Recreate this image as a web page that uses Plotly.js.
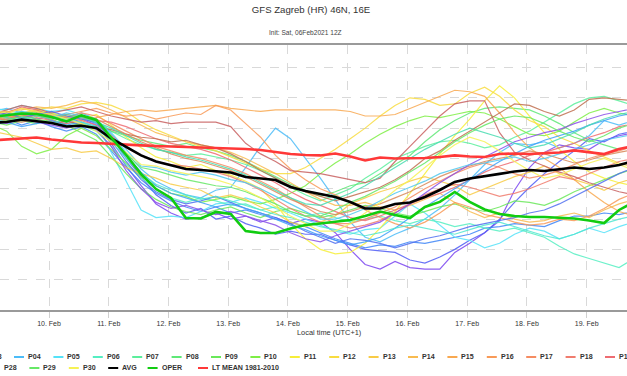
<!DOCTYPE html>
<html><head><meta charset="utf-8">
<script src="https://cdn.plot.ly/plotly-3.0.1.min.js"></script>
<style>html,body{margin:0;padding:0;background:#fff}#chart{width:627px;height:376px}</style>
</head><body><div id="chart"></div>
<script>
// ---- data (6-hourly, local time UTC+1, first point 09 Feb 2021 01:00) ----
const firstTime = Date.UTC(2021, 1, 9, 1, 0);
const stepHours = 6;
const memberNames = ['P01','P02','P03','P04','P05','P06','P07','P08','P09','P10','P11','P12','P13','P14','P15','P16','P17','P18','P19','P20','P21','P22','P23','P24','P25','P26','P27','P28','P29','P30'];
const memberColors = ['#7a44f0','#4f5cf5','#3f86f7','#4cbcf8','#55e2f8','#55eec2','#5cee9c','#5fe877','#6ae85a','#7eee45','#f6ee3a','#f8dc40','#f8cb46','#f8bb50','#f8a850','#f89a58','#f58c62','#f07c6e','#ee6c72','#c86060','#c07050','#d88a5a','#8a50e8','#5070f0','#40a0f8','#50c8ee','#50e6d0','#48dcb0','#66e866','#f6f255'];

const P01 = [0.6,0.8,0.7,0.9,0.5,0.3,0.6,0.2,-1.0,-2.5,-3.8,-5.0,-5.6,-6.0,-5.9,-5.6,-6.0,-5.8,-6.2,-5.9,-6.3,-6.0,-6.2,-6.9,-8.0,-9.0,-9.3,-8.8,-9.2,-9.3,-9.3,-8.2,-7.6,-6.9,-6.1,-4.1,-2.6,-1.6,-1.1,-1.3,-1.4,-0.8,-0.5,-0.3];
const P02 = [1.0,0.7,0.9,0.6,0.8,0.4,0.7,0.3,-0.6,-2.0,-3.2,-4.4,-5.1,-5.6,-5.3,-6.0,-5.8,-6.3,-6.6,-7.0,-6.8,-7.0,-7.0,-7.4,-7.7,-8.0,-8.1,-8.2,-8.7,-8.9,-8.5,-8.0,-7.4,-6.9,-6.0,-4.9,-3.9,-3.0,-2.2,-1.5,-0.7,-0.9,-0.4,-0.2];
const P03 = [0.3,0.6,0.2,0.5,0.1,-0.2,0.1,-0.4,-1.5,-2.6,-3.6,-4.3,-4.8,-5.2,-5.5,-5.2,-5.6,-5.4,-5.7,-6.0,-6.2,-6.5,-6.9,-7.3,-7.6,-7.9,-7.7,-7.8,-7.5,-7.6,-7.4,-7.2,-7.0,-6.6,-6.5,-6.3,-6.4,-6.5,-6.1,-5.8,-5.8,-5.6,-5.7,-5.5];
const P04 = [1.1,1.3,1.0,1.2,0.9,0.7,1.0,0.6,-0.4,-1.6,-2.7,-3.5,-4.0,-4.4,-4.6,-4.1,-3.9,-2.6,-1.2,0.0,-0.7,-2.0,-3.3,-4.7,-6.2,-7.2,-7.5,-7.0,-6.6,-6.0,-5.3,-4.4,-3.4,-2.4,-1.6,-1.0,-1.1,-0.9,-1.3,-1.0,-0.5,0.5,0.2,0.5];
const P05 = [1.3,1.2,1.5,1.3,1.1,1.2,0.9,0.3,-1.6,-3.6,-5.4,-5.9,-5.8,-5.9,-5.5,-5.0,-4.9,-4.6,-4.9,-5.3,-5.6,-6.0,-6.4,-6.8,-7.0,-6.7,-6.6,-5.8,-5.0,-5.6,-6.4,-7.2,-7.4,-7.9,-7.6,-7.0,-6.6,-6.8,-7.3,-7.0,-6.6,-6.9,-6.5,-6.2];
const P06 = [0.5,0.8,0.6,0.9,0.7,0.4,0.2,-0.2,-1.2,-2.4,-3.3,-4.0,-4.6,-4.9,-4.6,-4.8,-5.1,-5.0,-5.4,-5.2,-5.5,-5.8,-5.6,-5.9,-6.2,-6.0,-5.8,-6.1,-6.3,-6.0,-6.2,-6.5,-6.3,-6.6,-6.8,-6.6,-6.9,-7.2,-7.8,-8.3,-8.6,-8.9,-9.2,-8.6];
const P07 = [0.7,0.9,1.1,0.8,1.0,0.7,0.9,0.5,-0.2,-0.7,-1.1,-1.4,-1.6,-1.8,-1.7,-1.9,-2.1,-2.4,-2.8,-3.3,-3.9,-4.4,-4.8,-4.4,-4.0,-3.3,-2.7,-2.0,-1.6,-1.2,-0.9,-0.8,-1.0,-1.3,-1.1,-0.6,-0.2,0.4,1.0,1.6,2.0,2.1,1.8,1.5];
const P08 = [0.8,0.6,0.9,1.1,0.8,0.6,0.8,0.4,-0.2,-0.5,-0.8,-1.0,-1.2,-1.0,-1.3,-1.5,-1.8,-2.2,-2.7,-3.2,-3.7,-4.1,-4.5,-4.2,-3.8,-3.6,-3.0,-2.4,-1.8,-0.9,-0.1,0.5,1.0,1.3,1.4,1.3,1.2,0.8,0.3,-0.3,-0.8,-1.1,-1.4,-1.2];
const P09 = [0.4,0.2,0.5,0.3,0.6,0.2,-0.3,-0.8,-1.9,-3.0,-4.0,-4.7,-5.2,-5.5,-5.7,-5.4,-5.2,-5.6,-5.9,-5.5,-5.3,-5.6,-5.9,-5.7,-5.4,-5.1,-5.3,-5.6,-5.8,-5.5,-5.2,-5.0,-5.3,-5.5,-5.2,-4.8,-4.9,-5.1,-4.7,-4.2,-3.8,-3.4,-3.0,-2.7];
const P10 = [0.2,-0.2,-1.2,-1.7,-1.4,-0.5,0.0,-0.5,-1.4,-2.3,-3.2,-3.8,-4.3,-4.5,-4.9,-4.7,-4.5,-4.8,-5.0,-4.7,-4.3,-3.8,-3.0,-2.3,-1.7,-1.0,-0.4,0.1,0.5,0.8,0.7,0.9,1.1,1.0,0.6,0.1,-0.4,-0.5,-0.2,0.4,1.0,1.3,1.0,0.8];
const P11 = [0.9,0.7,1.0,1.2,1.0,0.8,0.6,0.9,0.2,-0.6,-1.3,-1.9,-2.2,-2.6,-2.4,-2.8,-3.1,-3.5,-4.0,-5.0,-6.3,-7.3,-8.0,-8.3,-8.2,-7.6,-6.6,-5.5,-4.3,-3.0,-1.7,-0.5,0.6,1.8,2.8,2.0,0.8,-0.3,-1.4,-2.2,-2.9,-3.3,-3.6,-3.8];
const P12 = [0.9,1.1,0.8,1.2,1.4,1.3,1.6,1.7,1.5,1.1,0.4,-0.1,-0.5,-0.9,-1.2,-1.5,-1.9,-2.3,-2.7,-3.0,-3.0,-2.6,-2.0,-1.4,-0.7,0.0,0.8,1.5,2.0,1.9,1.5,1.6,2.3,2.7,2.1,1.2,0.5,0.1,-0.6,-1.0,-1.5,-1.9,-2.3,-2.6];
const P13 = [-0.2,-0.4,-0.6,-1.0,-1.4,-1.3,-1.6,-1.5,-2.0,-2.6,-3.0,-3.3,-3.7,-3.9,-4.1,-4.6,-4.4,-4.7,-5.2,-5.6,-6.2,-6.5,-6.2,-5.8,-5.0,-4.6,-4.2,-3.9,-3.5,-3.2,-3.5,-3.8,-4.4,-4.0,-3.6,-3.2,-2.9,-2.5,-3.0,-3.4,-3.7,-4.1,-3.6,-3.3];
const P14 = [0.9,1.1,1.2,1.4,1.3,1.5,1.8,1.6,1.2,0.7,0.2,-0.3,-0.6,-0.9,-1.1,-1.3,-1.6,-2.0,-2.5,-3.0,-3.6,-4.2,-4.7,-5.1,-5.1,-4.9,-5.2,-5.4,-5.1,-4.7,-4.3,-4.9,-5.5,-5.9,-5.6,-6.0,-6.2,-6.1,-5.8,-5.6,-5.9,-5.4,-5.0,-4.7];
const P15 = [0.6,0.8,0.7,0.9,0.6,0.8,0.5,0.7,0.9,1.1,1.2,1.1,1.2,1.3,1.4,1.5,1.3,1.2,1.1,1.2,1.2,1.2,1.2,1.2,1.1,0.8,0.8,0.9,1.3,1.7,2.1,2.5,2.4,2.1,1.0,-0.3,-1.3,-2.0,-2.6,-3.4,-4.2,-4.9,-5.5,-5.8];
const P16 = [0.5,0.7,1.0,0.8,0.6,0.9,1.1,1.3,1.0,0.8,0.9,0.6,0.8,1.0,0.9,1.5,1.2,0.3,-0.6,-1.8,-2.7,-3.4,-4.0,-4.4,-4.9,-5.4,-5.9,-6.3,-6.6,-6.2,-5.6,-4.9,-5.2,-5.7,-5.9,-6.2,-6.4,-6.3,-6.0,-6.1,-5.8,-5.3,-4.7,-4.3];
const P17 = [0.8,1.0,1.3,1.1,0.9,0.7,1.0,0.8,0.3,-0.2,-0.7,-1.2,-1.5,-1.8,-2.0,-2.3,-2.6,-3.0,-3.5,-4.0,-4.6,-5.2,-5.8,-6.3,-6.3,-6.0,-5.6,-5.2,-4.6,-4.0,-3.5,-3.0,-2.6,-2.3,-2.6,-3.0,-3.3,-3.1,-2.8,-2.4,-2.0,-1.7,-1.5,-1.2];
const P18 = [0.4,0.6,0.9,0.7,0.5,0.3,0.5,0.2,-0.5,-1.3,-1.8,-2.2,-2.4,-2.5,-2.7,-2.9,-3.2,-3.6,-4.1,-4.7,-5.3,-5.8,-6.2,-6.3,-6.6,-6.4,-6.1,-5.6,-5.0,-4.4,-4.0,-3.7,-3.9,-4.2,-4.5,-4.3,-4.0,-3.6,-3.2,-3.4,-3.0,-2.6,-2.2,-2.0];
const P19 = [0.6,1.0,1.4,1.2,0.8,0.9,0.7,0.5,0.4,0.1,-0.3,-0.7,-1.0,-1.2,-1.4,-1.7,-2.1,-2.6,-3.1,-3.6,-4.2,-4.7,-5.1,-5.5,-5.9,-6.1,-5.8,-5.4,-5.0,-4.6,-4.3,-3.9,-3.4,-2.9,-2.5,-2.2,-1.8,-1.6,-1.3,-1.0,-0.6,-0.3,0.1,0.3];
const P20 = [0.9,1.2,1.5,1.3,1.0,1.2,1.4,1.1,0.8,0.6,0.4,0.5,0.3,0.4,0.4,0.4,0.1,-1.0,-1.7,-2.2,-2.8,-2.9,-3.0,-3.2,-3.4,-3.6,-3.3,-2.2,-1.2,-0.2,0.8,1.6,1.8,1.8,-0.3,-1.6,-2.1,-2.5,-2.9,-3.2,-3.6,-3.9,-4.2,-4.4];
const P21 = [0.3,0.5,0.4,0.6,0.3,0.5,0.2,0.0,-0.1,-0.4,-0.6,-0.7,-0.9,-0.8,-1.1,-1.3,-1.7,-2.2,-2.8,-3.3,-3.8,-4.2,-4.5,-4.8,-4.5,-4.2,-3.9,-3.4,-2.8,-2.0,-1.5,-0.8,-0.2,0.4,1.0,1.6,1.5,1.1,0.8,1.2,1.9,2.0,1.9,1.8];
const P22 = [0.7,0.5,0.8,1.0,0.7,0.5,0.8,0.6,0.1,-0.4,-0.9,-1.3,-1.7,-2.0,-2.2,-2.5,-2.8,-3.2,-3.7,-4.2,-4.7,-5.1,-5.5,-5.7,-5.5,-5.2,-5.0,-4.6,-4.2,-3.7,-3.2,-2.8,-2.5,-2.2,-2.0,-1.8,-1.5,-1.7,-2.0,-2.3,-2.1,-1.8,-1.6,-1.4];
const P23 = [0.5,0.3,0.6,0.4,0.2,0.0,0.3,-0.1,-1.2,-2.8,-4.0,-4.9,-5.3,-5.1,-5.4,-5.7,-5.5,-5.8,-6.1,-6.4,-6.9,-7.3,-7.5,-7.1,-6.8,-6.5,-6.2,-5.6,-5.0,-4.3,-3.6,-3.0,-2.4,-1.9,-1.4,-0.9,-0.6,-0.3,-0.1,0.3,0.6,0.9,1.1,1.3];
const P24 = [0.8,1.0,0.7,0.9,1.1,0.8,0.6,0.4,-0.8,-2.2,-3.4,-4.2,-4.7,-5.0,-4.8,-4.5,-4.9,-5.3,-5.6,-5.9,-6.3,-6.8,-7.2,-7.6,-7.3,-7.4,-7.6,-7.9,-7.6,-7.3,-7.1,-6.8,-6.5,-6.3,-6.1,-5.9,-5.6,-5.4,-5.0,-4.5,-4.0,-3.5,-3.0,-2.6];
const P25 = [0.2,0.4,0.1,0.3,0.5,0.2,0.4,0.1,-0.7,-1.8,-2.9,-3.8,-4.3,-4.6,-4.9,-5.2,-5.0,-5.3,-5.6,-6.0,-6.4,-6.7,-7.1,-7.4,-7.7,-7.5,-7.2,-6.6,-5.9,-5.2,-4.6,-4.0,-3.4,-2.8,-2.2,-1.7,-1.2,-0.8,-0.5,-0.2,0.2,0.5,0.8,1.0];
const P26 = [1.0,0.8,1.1,0.9,0.7,1.0,0.8,0.5,-0.3,-1.4,-2.5,-2.6,-2.9,-3.1,-2.9,-3.1,-3.4,-3.6,-4.0,-4.5,-5.0,-5.5,-6.0,-6.0,-5.7,-5.3,-4.8,-4.3,-3.9,-3.5,-3.0,-2.7,-2.4,-2.3,-2.1,-1.9,-2.2,-2.0,-1.7,-1.4,-1.1,-0.8,-0.6,-0.4];
const P27 = [0.6,0.4,0.7,0.5,0.3,0.6,0.4,0.1,-0.9,-2.0,-3.0,-3.7,-4.1,-4.4,-4.7,-4.5,-4.8,-5.1,-5.4,-5.7,-5.9,-6.2,-6.5,-6.7,-6.9,-7.1,-6.9,-6.6,-6.4,-6.6,-6.8,-7.0,-6.7,-6.4,-6.2,-6.5,-6.8,-7.1,-7.3,-7.0,-6.6,-6.3,-6.0,-5.8];
const P28 = [0.9,0.7,0.5,0.8,0.6,0.9,0.7,0.4,0.0,-0.5,-1.0,-1.4,-1.6,-1.9,-2.1,-2.4,-2.7,-3.1,-3.6,-4.1,-4.6,-5.0,-5.1,-4.7,-4.3,-3.8,-3.2,-2.6,-2.0,-1.4,-0.9,-0.4,0.0,-0.3,-0.6,-1.0,-1.3,-1.1,-0.7,-0.3,0.2,0.6,0.9,1.1];
const P29 = [0.3,0.5,0.8,0.6,0.4,0.1,0.3,0.0,-0.8,-1.7,-2.6,-2.8,-3.1,-3.4,-3.6,-3.8,-3.9,-4.2,-4.6,-5.0,-5.5,-5.8,-5.8,-5.4,-4.9,-4.5,-4.0,-3.5,-2.9,-2.3,-1.6,-0.9,-0.3,0.2,0.6,0.8,0.7,0.3,-0.2,-0.6,-0.9,-0.5,0.0,0.3];
const P30 = [1.2,1.0,1.3,1.1,0.9,0.6,0.3,-0.2,-0.9,-1.6,-2.4,-2.5,-2.8,-3.0,-3.2,-3.4,-3.7,-4.1,-4.6,-5.2,-5.8,-6.3,-6.8,-6.8,-6.3,-5.6,-4.9,-4.1,-3.4,-2.6,-1.8,-1.1,-0.6,-0.9,-1.5,-2.2,-2.8,-3.3,-3.1,-2.7,-2.3,-2.0,-2.4,-2.8];
const AVG = [0.34,0.41,0.57,0.47,0.34,0.11,0.16,0.01,-0.68,-1.24,-1.80,-2.20,-2.46,-2.70,-2.76,-2.83,-2.93,-3.22,-3.32,-3.42,-3.88,-4.15,-4.35,-4.54,-4.87,-5.30,-5.30,-5.00,-4.91,-4.54,-4.08,-3.55,-3.32,-3.19,-3.02,-2.86,-2.76,-2.83,-2.73,-2.60,-2.70,-2.60,-2.43,-2.17];
const OPER = [0.74,0.87,0.97,0.93,0.74,0.44,0.84,0.54,-0.58,-1.77,-3.03,-4.02,-4.61,-5.93,-5.96,-5.53,-5.66,-6.79,-6.92,-6.92,-6.62,-6.39,-6.29,-6.19,-6.06,-5.80,-5.50,-5.73,-5.93,-5.20,-4.87,-4.21,-4.87,-5.37,-5.66,-5.80,-5.86,-5.86,-5.93,-5.96,-6.09,-6.26,-5.40,-4.87];
const LT_MEAN = [-0.81,-0.75,-0.65,-0.62,-0.75,-0.85,-0.95,-0.98,-1.05,-1.11,-1.14,-1.18,-1.21,-1.21,-1.28,-1.31,-1.31,-1.38,-1.44,-1.57,-1.71,-1.77,-1.80,-1.67,-1.87,-2.13,-1.94,-2.00,-2.00,-1.97,-1.90,-1.80,-1.87,-1.90,-1.71,-1.67,-1.71,-1.64,-1.61,-1.47,-1.57,-1.71,-1.38,-1.18];
const members = [P01,P02,P03,P04,P05,P06,P07,P08,P09,P10,P11,P12,P13,P14,P15,P16,P17,P18,P19,P20,P21,P22,P23,P24,P25,P26,P27,P28,P29,P30];

// time stamps
function times(n){
  const out = [];
  for (let i = 0; i < n; i++) {
    const d = new Date(firstTime + i * stepHours * 3600e3);
    out.push(d.toISOString().slice(0,16).replace('T',' '));
  }
  return out;
}
const X = times(P01.length);

const traces = [];
members.forEach((vals, k) => {
  traces.push({x: X, y: vals, type: 'scatter', mode: 'lines', name: memberNames[k],
    line: {color: memberColors[k], width: 1.2}, opacity: 0.85, hoverinfo: 'skip', showlegend: false});
});
traces.push({x: X, y: LT_MEAN, type:'scatter', mode:'lines', name:'LT MEAN 1981-2010', line:{color:'#ff3838', width:2.6}, showlegend:false, hoverinfo:'skip'});
traces.push({x: X, y: AVG, type:'scatter', mode:'lines', name:'AVG', line:{color:'#000000', width:2.6}, showlegend:false, hoverinfo:'skip'});
traces.push({x: X, y: OPER, type:'scatter', mode:'lines', name:'OPER', line:{color:'#11cc11', width:2.6}, showlegend:false, hoverinfo:'skip'});

// ---- custom legend (two rows; only the entries that fall inside the picture, as in the reference) ----
const W = 627, PT = 45, PB = 310, PH = PB - PT;
const px2x = px => px / W;
const py2y = py => (PB - py) / PH;
const legendItems = [];
memberNames.forEach((n, k) => {
  const tx = 27 + (k - 3) * 39.4;
  if (k < 27 && tx > -20 && tx < W) legendItems.push({name: n, color: memberColors[k], tx: tx, ty: 357});
});
const row2 = [
  {name:'P28', color: memberColors[27], tx: 3},
  {name:'P29', color: memberColors[28], tx: 42.4},
  {name:'P30', color: memberColors[29], tx: 81.8},
  {name:'AVG', color: '#000000', tx: 121.2},
  {name:'OPER', color: '#11cc11', tx: 160.6},
  {name:'LT MEAN 1981-2010', color: '#ff3838', tx: 211}
];
row2.forEach(it => legendItems.push(Object.assign({ty: 368}, it)));

const annotations = [
  {text:'Init: Sat, 06Feb2021 12Z', xref:'paper', yref:'paper', x: px2x(305), y: py2y(32), xanchor:'center', yanchor:'middle', showarrow:false, font:{size:6.6, color:'#444'}},
  {text:'Local time (UTC+1)', xref:'paper', yref:'paper', x: px2x(328.5), y: py2y(332), xanchor:'center', yanchor:'middle', showarrow:false, font:{size:7.4, color:'#333'}}
];
const shapes = [];
legendItems.forEach(it => {
  annotations.push({text: it.name, xref:'paper', yref:'paper', x: px2x(it.tx - 1), y: py2y(it.ty), xanchor:'left', yanchor:'middle', showarrow:false, font:{size:7.1, color:'#333', weight:'bold'}});
  shapes.push({type:'line', xref:'paper', yref:'paper', x0: px2x(it.tx - 13), x1: px2x(it.tx - 3), y0: py2y(it.ty), y1: py2y(it.ty), line:{color: it.color, width: 2}});
});

const layout = {
  width: 627, height: 376,
  margin: {l: 0, r: 0, t: PT, b: 376 - PB, pad: 0, autoexpand: false},
  paper_bgcolor: '#ffffff', plot_bgcolor: '#ffffff',
  font: {family: 'Liberation Sans, Arial, sans-serif', color: '#333'},
  title: {text: 'GFS Zagreb (HR) 46N, 16E', x: px2x(311), xanchor: 'center', xref: 'paper', y: 1 - 9.5/376, yref: 'container', yanchor: 'middle', font: {size: 9.6, color: '#333'}},
  showlegend: false,
  xaxis: {type: 'date', range: ['2021-02-09 04:19', '2021-02-19 16:11'], tick0: '2021-02-10', dtick: 86400000,
    tickformat: '%-d. %b', showgrid: true, gridcolor: '#d9d9d9', griddash: 'dash', gridwidth: 1,
    ticks: 'outside', ticklen: 6, tickcolor: '#d0d0d0', tickwidth: 1, ticklabelstandoff: -2.5,
    showline: true, linecolor: '#9a9a9a', linewidth: 2, mirror: true,
    tickfont: {size: 7, color: '#333'}, zeroline: false, fixedrange: true},
  yaxis: {range: [-12, 5.486], tick0: 0, dtick: 2, showgrid: true, gridcolor: '#d9d9d9', griddash: 'dash', gridwidth: 1,
    showticklabels: false, ticks: '', zeroline: false, showline: false, fixedrange: true},
  annotations: annotations,
  shapes: shapes
};

Plotly.newPlot('chart', traces, layout, {displayModeBar: false, staticPlot: true});
</script>
</body></html>
